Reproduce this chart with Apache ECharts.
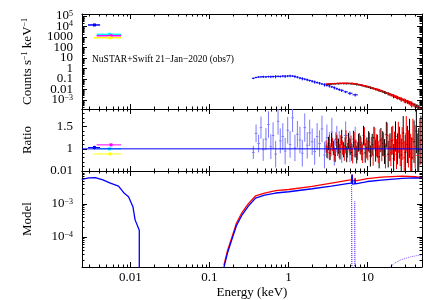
<!DOCTYPE html>
<html>
<head>
<meta charset="utf-8">
<script src="https://cdn.jsdelivr.net/npm/echarts@6/dist/echarts.min.js"></script>
<style>html,body{margin:0;padding:0;background:#fff}#chart{width:424px;height:300px}</style>
</head>
<body>
<div id="chart"></div>
<script>
const FONT = 'Liberation Serif';

// Swift/UVOT points (blue, cyan, magenta, yellow)
const uvotColors = ['#0000ff', '#00ffff', '#ff00ff', '#ffff00'];
const uvotE = [0.00352, 0.00545, 0.00571, 0.00556];
const uvotElo = [0.00292, 0.00375, 0.00375, 0.00346];
const uvotEhi = [0.00415, 0.00766, 0.00766, 0.00766];
const uvotCounts = [14000, 1800, 1320, 850];
const uvotRatio = [1.03, 1.0, 1.09, 0.885];
const uvotRatioErr = [0.04, 0.01, 0.01, 0.01];

// Swift/XRT
const xrtE = [0.36,0.39,0.42,0.45,0.48,0.52,0.56,0.60,0.64,0.69,0.74,0.79,0.85,0.91,0.98,1.05,1.13,1.21,1.30,1.40,
  1.50,1.61,1.73,1.86,2.00,2.15,2.31,2.48,2.66,2.86,3.07,3.30,3.55,3.81,4.10,4.40,4.73,5.30,6.00,7.00];
const xrtCounts = [0.116,0.14,0.155,0.16,0.165,0.16,0.17,0.165,0.17,0.175,0.18,0.175,0.19,0.185,0.19,0.2,0.19,0.175,0.15,0.125,
  0.11,0.097,0.085,0.072,0.062,0.053,0.046,0.04,0.034,0.029,0.025,0.022,0.018,0.015,0.012,0.0098,0.0082,0.006,0.0044,0.0031];
const xrtRatio = [0.92,1.35,1.12,1.48,0.98,1.22,1.55,1.05,1.30,0.88,1.62,1.18,1.28,0.95,1.42,1.10,1.70,1.02,1.33,1.20,
  0.90,1.48,1.08,1.36,1.16,0.94,1.28,1.12,1.45,0.86,1.25,1.06,1.38,0.92,1.22,1.10,0.98,1.30,1.05,1.15];
const xrtErr = [0.15,0.2,0.2,0.25,0.25,0.25,0.3,0.28,0.3,0.3,0.3,0.28,0.3,0.3,0.3,0.3,0.32,0.3,0.3,0.3,
  0.3,0.32,0.3,0.3,0.3,0.3,0.3,0.3,0.3,0.3,0.3,0.32,0.32,0.3,0.3,0.3,0.3,0.32,0.35,0.35];

// NuSTAR FPMA (red)
const fpmaE = [3.0,3.15,3.3,3.45,3.6,3.8,4.0,4.2,4.4,4.6,4.85,5.1,5.35,5.6,5.9,6.2,6.5,6.8,7.15,7.5,7.9,8.3,8.7,9.15,9.6,
  10.1,10.6,11.2,11.8,12.4,13.0,13.7,14.4,15.2,16.0,16.9,17.8,18.8,19.8,20.9,22.0,23.3,24.6,26.0,27.5,29.2,31.0,33.0,35.2,37.6,40.2,43.0,46.0];
const fpmaCounts = [0.033,0.034,0.035,0.036,0.037,0.037,0.038,0.039,0.039,0.040,0.040,0.040,0.040,0.040,0.039,0.039,0.038,0.036,0.034,0.032,
  0.030,0.027,0.025,0.023,0.021,0.019,0.017,0.015,0.0135,0.012,0.0107,0.0094,0.0083,0.0072,0.0062,0.0053,0.0046,0.0039,0.0033,0.0028,
  0.0024,0.0020,0.0017,0.0014,0.00118,0.00098,0.00081,0.00066,0.00053,0.00042,0.00032,0.00024,0.00017];
const fpmaRatio = [1.05,0.92,1.18,0.98,1.10,0.88,1.22,1.00,0.95,1.15,1.03,0.90,1.25,0.97,1.08,1.12,0.85,1.20,1.02,0.94,
  1.16,1.06,0.89,1.28,1.00,0.96,1.14,1.04,0.86,1.24,1.08,0.93,1.18,0.99,1.10,0.84,1.30,1.02,0.92,1.20,
  1.06,0.88,1.26,0.97,1.12,0.80,1.34,1.00,0.90,1.22,1.05,0.85,1.15];
const fpmaErr = [0.14,0.14,0.14,0.15,0.15,0.15,0.15,0.16,0.16,0.16,0.16,0.17,0.17,0.17,0.17,0.18,0.18,0.18,0.19,0.19,
  0.2,0.2,0.21,0.21,0.22,0.22,0.23,0.23,0.24,0.24,0.25,0.25,0.26,0.27,0.27,0.28,0.29,0.3,0.31,0.32,
  0.33,0.34,0.35,0.36,0.37,0.38,0.4,0.42,0.44,0.46,0.48,0.5,0.52];

// NuSTAR FPMB (black)
const fpmbE = [3.07,3.22,3.37,3.52,3.70,3.90,4.10,4.30,4.50,4.72,4.97,5.22,5.47,5.75,6.05,6.35,6.65,6.97,7.32,7.70,8.10,8.50,8.92,9.37,9.85,
  10.35,10.9,11.5,12.1,12.7,13.35,14.05,14.8,15.6,16.45,17.35,18.3,19.3,20.35,21.45,22.65,23.95,25.3,26.75,28.35,30.1,32.0,34.1,36.4,38.9,41.6,44.5,47.5];
const fpmbCounts = [0.031,0.032,0.033,0.034,0.035,0.035,0.036,0.036,0.037,0.037,0.037,0.037,0.037,0.037,0.036,0.036,0.035,0.033,0.031,0.029,
  0.027,0.025,0.023,0.021,0.019,0.017,0.0155,0.0138,0.0123,0.011,0.0097,0.0086,0.0075,0.0065,0.0056,0.0048,0.0041,0.0035,0.003,0.0025,
  0.0021,0.00175,0.00148,0.00124,0.00103,0.00085,0.0007,0.00057,0.00046,0.00036,0.00028,0.00021,0.00015];
const fpmbRatio = [0.95,1.12,0.90,1.20,1.02,0.86,1.15,1.06,0.93,1.26,0.98,1.08,0.88,1.18,1.04,0.92,1.22,1.00,0.87,1.14,
  1.09,0.95,1.30,0.91,1.03,1.17,0.84,1.10,1.25,0.96,1.06,0.82,1.20,1.12,0.94,1.32,0.88,1.04,1.18,0.78,
  1.28,1.00,1.14,0.86,1.36,0.92,1.10,1.24,0.80,1.16,1.40,0.95,1.20];
const fpmbErr = [0.15,0.15,0.15,0.16,0.16,0.16,0.16,0.17,0.17,0.17,0.17,0.18,0.18,0.18,0.18,0.19,0.19,0.19,0.2,0.2,
  0.21,0.21,0.22,0.22,0.23,0.23,0.24,0.24,0.25,0.25,0.26,0.26,0.27,0.28,0.28,0.29,0.3,0.31,0.32,0.33,
  0.34,0.35,0.36,0.37,0.38,0.4,0.42,0.44,0.46,0.48,0.5,0.52,0.55];

// model curves
const modelUvE = [0.00243,0.0030,0.0036,0.0045,0.0056,0.0071,0.0084,0.0095,0.0108,0.0115,0.0130,0.0130];
const modelUvBlue = [5.6e-3,6.2e-3,6.3e-3,5.4e-3,4.3e-3,3.5e-3,2.1e-3,1.65e-3,8.3e-4,3.3e-4,1.6e-4,1e-7];
const modelXE = [0.153,0.17,0.195,0.22,0.26,0.31,0.384,0.5,0.69,0.72,1.01,2.0,3.5,5.83,6.25,6.4,6.5,6.9,6.97,7.05,10,15,27.5,40,49];
const modelXBlue = [1.2e-5,3.3e-5,9.1e-5,2.2e-4,4.7e-4,8.5e-4,1.5e-3,1.85e-3,2.15e-3,2.05e-3,2.35e-3,2.9e-3,3.5e-3,4.2e-3,4.3e-3,
  7.6e-3,4.0e-3,4.1e-3,5.5e-3,4.1e-3,4.8e-3,5.3e-3,6.0e-3,6.2e-3,6.1e-3];
const modelXRed = [1.4e-5,3.9e-5,1.05e-4,2.6e-4,5.6e-4,1.0e-3,1.75e-3,2.15e-3,2.55e-3,2.4e-3,2.75e-3,3.4e-3,4.3e-3,5.3e-3,5.4e-3,
  7.9e-3,5.0e-3,5.1e-3,6.2e-3,5.0e-3,5.9e-3,6.5e-3,7.0e-3,6.7e-3,6.3e-3];
const feKaE = [6.3,6.3,6.45,6.45];
const feKaM = [1e-7,4.8e-3,4.8e-3,1e-7];
const feKbE = [6.9,6.9,7.02,7.02];
const feKbM = [1e-7,1.2e-3,1.2e-3,1e-7];
const reflE = [17,19.5,22,26,34.8,49];
const reflM = [8e-6,1.23e-5,1.6e-5,2.0e-5,2.5e-5,2.9e-5];

const minorMult = [2,3,4,5,6,7,8,9];
const xMin = 0.00245, xMax = 49;

function minorLog(d0, d1) {
  const out = [];
  for (let d = d0; d <= d1; d++) minorMult.forEach(m => out.push(m * Math.pow(10, d)));
  return out;
}

function binEdges(E) {
  return E.map((e, i) => {
    const prev = i > 0 ? E[i - 1] : e * e / E[i + 1];
    const next = i < E.length - 1 ? E[i + 1] : e * e / E[i - 1];
    return [Math.sqrt(prev * e), Math.sqrt(e * next)];
  });
}

function crossData(E, y, err) {
  const edges = binEdges(E);
  return E.map((e, i) => [e, y[i], edges[i][0], edges[i][1], Math.max(y[i] - err[i], y[i] * 0.05), y[i] + err[i]]);
}
const relErr = (c, r, e) => c.map((v, i) => v * e[i] / r[i]);

function crossRender(color, width, marker) {
  return function (params, api) {
    const x = api.value(0), y = api.value(1);
    const col = color || uvotColors[api.value(6)];
    const c = api.coord([x, y]);
    const l = api.coord([api.value(2), y]);
    const r = api.coord([api.value(3), y]);
    const b = api.coord([x, api.value(4)]);
    const t = api.coord([x, api.value(5)]);
    const st = { stroke: col, lineWidth: width };
    const children = [
      { type: 'line', shape: { x1: l[0], y1: c[1], x2: r[0], y2: c[1] }, style: st },
      { type: 'line', shape: { x1: c[0], y1: b[1], x2: c[0], y2: t[1] }, style: st }
    ];
    if (marker) children.push({ type: 'rect', shape: { x: c[0] - marker / 2, y: c[1] - marker / 2, width: marker, height: marker }, style: { fill: col } });
    return { type: 'group', children };
  };
}

function crossSeries(idx, data, color, width, marker) {
  return { type: 'custom', xAxisIndex: idx, yAxisIndex: idx, clip: true, silent: true,
    renderItem: crossRender(color, width, marker), data };
}

function minorTicks(idx, xVals, yVals, anchor) {
  return { type: 'custom', xAxisIndex: idx, yAxisIndex: idx, silent: true, z: 10, data: [anchor],
    renderItem(params, api) {
      const cs = params.coordSys, L = 2.5, ch = [];
      const st = { stroke: '#000', lineWidth: 1 };
      xVals.forEach(v => {
        const px = Math.round(api.coord([v, anchor[1]])[0]) + 0.5;
        if (px < cs.x || px > cs.x + cs.width) return;
        ch.push({ type: 'line', shape: { x1: px, y1: cs.y + cs.height, x2: px, y2: cs.y + cs.height - L }, style: st });
        ch.push({ type: 'line', shape: { x1: px, y1: cs.y, x2: px, y2: cs.y + L }, style: st });
      });
      yVals.forEach(v => {
        const py = Math.round(api.coord([anchor[0], v])[1]) + 0.5;
        if (py < cs.y || py > cs.y + cs.height) return;
        ch.push({ type: 'line', shape: { x1: cs.x, y1: py, x2: cs.x + L, y2: py }, style: st });
        ch.push({ type: 'line', shape: { x1: cs.x + cs.width, y1: py, x2: cs.x + cs.width - L, y2: py }, style: st });
      });
      return { type: 'group', children: ch };
    } };
}

function logLabel(v) {
  const e = Math.log10(v), r = Math.round(e);
  if (Math.abs(e - r) > 0.01) return '';
  if (r >= 4 || r <= -3) return '10{s|' + (r < 0 ? '\u2212' + (-r) : r) + '}';
  return r >= 0 ? String(Math.pow(10, r)) : Math.pow(10, r).toFixed(-r);
}

const supRich = { s: { fontSize: 8, fontFamily: FONT, color: '#000', verticalAlign: 'top', lineHeight: 8 } };
const labelStyle = { fontFamily: FONT, fontSize: 13, color: '#000', hideOverlap: false, rich: supRich };
const lineSt = { color: '#000', width: 1 };

function xAx(grid, pos, labels, extra) {
  return Object.assign({ type: 'log', logBase: 10, gridIndex: grid, position: pos, min: xMin, max: xMax,
    axisLine: { show: true, onZero: false, lineStyle: lineSt },
    axisTick: { show: true, inside: true, length: 5, lineStyle: lineSt },
    axisLabel: Object.assign({ show: labels, margin: 4, formatter: logLabel }, labelStyle),
    splitLine: { show: false } }, extra || {});
}
function yAx(grid, pos, cfg, labels, extra) {
  return Object.assign({ gridIndex: grid, position: pos,
    axisLine: { show: true, onZero: false, lineStyle: lineSt },
    axisTick: { show: true, inside: true, length: 5, lineStyle: lineSt },
    axisLabel: Object.assign({ show: labels, margin: 9, formatter: logLabel }, labelStyle),
    splitLine: { show: false } }, cfg, extra || {});
}

const topY = { type: 'log', logBase: 10, min: 1.39e-4, max: 1.55e5 };
const ratioY = { type: 'value', min: 0.5, max: 1.9, interval: 0.5 };
const modelY = { type: 'log', logBase: 10, min: 1.23e-5, max: 0.01 };
const ratioFmt = v => (Math.abs(v - 1) < 1e-9 ? '1' : Math.abs(v - 1.5) < 1e-9 ? '1.5' : '');
const ratioMinor = { minorTick: { show: true, splitNumber: 5, length: 2.5, lineStyle: lineSt } };
const nameSt = { fontFamily: FONT, fontSize: 13, color: '#000', rich: { s: { fontSize: 8, fontFamily: FONT, color: '#000', verticalAlign: 'top', lineHeight: 8 } } };

const uvotIdx = [0, 1, 2, 3];
const uvotCountData = uvotIdx.map(i => [uvotE[i], uvotCounts[i], uvotElo[i], uvotEhi[i], uvotCounts[i] * 0.97, uvotCounts[i] * 1.03, i]);
const uvotRatioData = uvotIdx.map(i => [uvotE[i], uvotRatio[i], uvotElo[i], uvotEhi[i], uvotRatio[i] - uvotRatioErr[i], uvotRatio[i] + uvotRatioErr[i], i]);

const pairs = (xs, ys) => xs.map((x, i) => [x, ys[i]]);
const modelLine = (xs, ys, color, dotted, w) => ({ type: 'line', xAxisIndex: 2, yAxisIndex: 2, data: pairs(xs, ys),
  symbol: 'none', silent: true, clip: true, lineStyle: { color, width: w || 1.3, type: dotted ? 'dotted' : 'solid' } });

const option = {
  animation: false,
  backgroundColor: '#fff',
  grid: [
    { left: 82, top: 14, width: 340, height: 95, outerBoundsMode: 'none' },
    { left: 82, top: 109, width: 340, height: 62, outerBoundsMode: 'none' },
    { left: 82, top: 171, width: 340, height: 96, outerBoundsMode: 'none' }
  ],
  xAxis: [
    xAx(0, 'bottom', false), xAx(1, 'bottom', false),
    xAx(2, 'bottom', true, { name: 'Energy (keV)', nameLocation: 'middle', nameGap: 19, nameTextStyle: nameSt }),
    xAx(0, 'top', false), xAx(1, 'top', false), xAx(2, 'top', false)
  ],
  yAxis: [
    yAx(0, 'left', topY, true, { name: 'Counts s{s|\u22121} keV{s|\u22121}', nameLocation: 'middle', nameGap: 48, nameTextStyle: nameSt }),
    yAx(1, 'left', ratioY, true, Object.assign({ name: 'Ratio', nameLocation: 'middle', nameGap: 48, nameTextStyle: nameSt,
      axisLabel: Object.assign({ show: true, margin: 9, formatter: ratioFmt }, labelStyle) }, ratioMinor)),
    yAx(2, 'left', modelY, true, { name: 'Model', nameLocation: 'middle', nameGap: 48, nameTextStyle: nameSt }),
    yAx(0, 'right', topY, false),
    yAx(1, 'right', ratioY, false, ratioMinor),
    yAx(2, 'right', modelY, false)
  ],
  graphic: [{ type: 'text', left: 92, top: 54, silent: true,
    style: { text: 'NuSTAR+Swift 21\u2212Jan\u22122020 (obs7)', font: '9.5px "Liberation Serif"', fill: '#000' } }],
  series: [
    // counts panel
    crossSeries(0, crossData(xrtE, xrtCounts, relErr(xrtCounts, xrtRatio, xrtErr)), '#0000ff', 1),
    crossSeries(0, crossData(fpmbE, fpmbCounts, relErr(fpmbCounts, fpmbRatio, fpmbErr)), '#000000', 1),
    crossSeries(0, crossData(fpmaE, fpmaCounts, relErr(fpmaCounts, fpmaRatio, fpmaErr)), '#ff0000', 1),
    crossSeries(0, uvotCountData, null, 1.5, 3),
    // ratio panel
    crossSeries(1, crossData(xrtE, xrtRatio, xrtErr), '#7a7aff', 1),
    crossSeries(1, crossData(fpmbE, fpmbRatio, fpmbErr), '#000000', 1),
    crossSeries(1, crossData(fpmaE, fpmaRatio, fpmaErr), '#ff0000', 1),
    crossSeries(1, uvotRatioData, null, 1, 3),
    { type: 'line', xAxisIndex: 1, yAxisIndex: 1, data: [[xMin, 1], [xMax, 1]], symbol: 'none', silent: true, z: 20,
      lineStyle: { color: '#0000ff', width: 1 } },
    // model panel
    modelLine(feKaE, feKaM, '#7b55f0', true, 1),
    modelLine(feKbE, feKbM, '#7b55f0', true, 1),
    modelLine(reflE, reflM, '#8a5cf0', true, 1),
    modelLine(modelXE, modelXRed, '#ff0000'),
    modelLine(modelXE, modelXBlue, '#0000ff'),
    modelLine(modelUvE, modelUvBlue, '#0000ff'),
    // minor ticks
    minorTicks(0, minorLog(-3, 1), minorLog(-4, 4), [1, 1]),
    minorTicks(1, minorLog(-3, 1), [], [1, 1]),
    minorTicks(2, minorLog(-3, 1), minorLog(-5, -3), [1, 0.001])
  ]
};

const chart = echarts.init(document.getElementById('chart'));
chart.setOption(option);
</script>
</body>
</html>
